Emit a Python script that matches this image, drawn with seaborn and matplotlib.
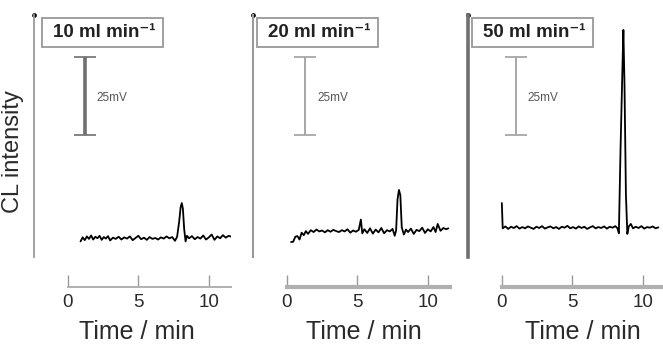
import matplotlib
matplotlib.use("Agg")
import matplotlib.pyplot as plt
from matplotlib.patches import Rectangle
import seaborn as sns

# ---------------- data ----------------
flow_rates = ["10", "20", "50"]
tick_values = [0, 5, 10]
scale_mv = 25

t1 = [0.90, 1.05, 1.20, 1.35, 1.50, 1.65, 1.80, 1.95, 2.10, 2.25, 2.40, 2.55, 2.70, 2.85, 3.00,
      3.20, 3.40, 3.60, 3.80, 4.00, 4.20, 4.40, 4.60, 4.80, 5.00, 5.20, 5.40, 5.60, 5.80, 6.00,
      6.20, 6.40, 6.60, 6.80, 7.00, 7.20, 7.40, 7.60, 7.75, 7.90, 8.00, 8.08, 8.16, 8.25, 8.35,
      8.45, 8.60, 8.80, 9.00, 9.20, 9.40, 9.60, 9.80, 10.00, 10.20, 10.40, 10.60, 10.80, 11.00,
      11.20, 11.40, 11.60]
y1 = [5.0, 6.3, 5.4, 6.6, 5.8, 6.9, 5.6, 6.5, 6.0, 6.8, 5.5, 6.4, 5.9, 6.7, 5.3,
      6.2, 5.8, 6.5, 5.6, 6.3, 5.9, 6.6, 5.4, 6.1, 6.8, 5.7, 6.2, 5.5, 6.4, 5.8,
      6.1, 5.6, 6.3, 5.9, 6.6, 6.0, 6.4, 5.2, 6.5, 11.5, 16.0, 17.3, 15.5, 9.0, 5.0,
      6.8, 6.0, 6.7, 5.7, 6.4, 5.9, 6.9, 5.6, 6.3, 7.2, 5.5, 6.6, 6.0, 7.0, 6.2, 6.8, 6.5]

t2 = [0.30, 0.45, 0.60, 0.75, 0.90, 1.05, 1.20, 1.35, 1.50, 1.70, 1.90, 2.10, 2.30, 2.50, 2.70,
      2.90, 3.10, 3.30, 3.50, 3.70, 3.90, 4.10, 4.30, 4.50, 4.70, 4.90, 5.10, 5.25, 5.35, 5.50,
      5.70, 5.90, 6.10, 6.30, 6.50, 6.70, 6.90, 7.10, 7.30, 7.50, 7.65, 7.75, 7.85, 7.95, 8.05,
      8.15, 8.30, 8.45, 8.60, 8.80, 9.00, 9.20, 9.40, 9.60, 9.80, 10.00, 10.20, 10.40, 10.55,
      10.70, 10.90, 11.10, 11.30, 11.45]
y2 = [4.8, 4.9, 6.5, 6.7, 5.6, 7.8, 7.0, 8.3, 7.4, 8.6, 8.0, 8.8, 8.2, 8.5, 7.9,
      8.6, 8.1, 8.7, 8.3, 8.0, 8.6, 8.2, 8.9, 7.8, 8.5, 8.1, 8.7, 12.0, 7.6, 8.9,
      7.7, 9.2, 7.5, 8.8, 7.9, 9.3, 7.6, 8.6, 8.2, 9.0, 6.8, 8.5, 18.5, 21.5, 19.8,
      9.5, 7.2, 8.8, 8.0, 9.1, 7.4, 8.7, 8.3, 9.4, 7.7, 8.9, 8.2, 9.6, 8.0, 10.6,
      8.4, 9.3, 8.9, 9.2]

t3 = [0.00, 0.06, 0.25, 0.45, 0.65, 0.85, 1.05, 1.25, 1.45, 1.65, 1.85, 2.05, 2.25, 2.45, 2.65,
      2.85, 3.05, 3.25, 3.45, 3.65, 3.85, 4.05, 4.25, 4.45, 4.65, 4.85, 5.05, 5.25, 5.45, 5.65,
      5.85, 6.05, 6.25, 6.45, 6.65, 6.85, 7.05, 7.25, 7.45, 7.65, 7.85, 8.05, 8.20, 8.30, 8.42,
      8.55, 8.62, 8.70, 8.80, 8.90, 9.00, 9.15, 9.30, 9.50, 9.70, 9.90, 10.10, 10.30, 10.50,
      10.70, 10.90, 11.10]
y3 = [17.3, 9.2, 9.8, 9.0, 9.7, 9.3, 9.9, 9.1, 9.6, 9.2, 9.8, 9.4, 9.0, 9.7, 9.3,
      9.9, 9.1, 9.5, 9.8, 9.2, 9.6, 9.0, 9.7, 9.4, 10.0, 9.2, 9.6, 9.1, 9.8, 9.3,
      9.7, 9.0, 9.5, 9.9, 9.2, 9.6, 9.3, 9.8, 9.1, 9.7, 9.4, 9.9, 9.2, 7.6, 35.0,
      60.0, 72.8, 55.0, 20.0, 7.4, 9.8, 10.6, 9.2, 9.7, 9.3, 9.9, 9.1, 9.6, 9.4, 9.8,
      9.2, 9.5]

times = [t1, t2, t3]
signals = [y1, y2, y3]

# ---------------- style ----------------
sns.set_theme(style="white")
plt.rcParams["font.family"] = ["Liberation Sans", "DejaVu Sans"]

W, H = 663, 345
fig = plt.figure(figsize=(W / 100, H / 100), dpi=100)

PX_PER_MIN = 14.1
XLIM = (-2.4, 11.6)
YLIM = (0, 77.6)
ax_lefts = [34, 253, 468]
ax_top, ax_bottom = 15, 257

left_spine_style = [("#9a9a9a", 1.3), ("#9a9a9a", 1.5), ("#707070", 2.6)]
bottom_spine_style = [("#b0b0b0", 1.4), ("#b0b0b0", 3.0), ("#b0b0b0", 3.0)]
bar_style = [("#707070", 2.6), ("#a0a0a0", 1.3), ("#a0a0a0", 1.3)]
bar_x = [1.2, 1.3, 1.0]
xlabel_x = [0.52, 0.56, 0.58]
box_left = [42, 257, 472]

for i in range(3):
    axw = (XLIM[1] - XLIM[0]) * PX_PER_MIN
    ax = fig.add_axes([ax_lefts[i] / W, (H - ax_bottom) / H, axw / W, (ax_bottom - ax_top) / H])
    ax.set_facecolor("none")
    sns.lineplot(x=times[i], y=signals[i], ax=ax, color="black", lw=1.3,
                 estimator=None, sort=False)
    ax.set_xlim(*XLIM)
    ax.set_ylim(*YLIM)

    for s in ("top", "right"):
        ax.spines[s].set_visible(False)
    c, lw = left_spine_style[i]
    ax.spines["left"].set_color(c)
    ax.spines["left"].set_linewidth(lw)
    c, lw = bottom_spine_style[i]
    ax.spines["bottom"].set_color(c)
    ax.spines["bottom"].set_linewidth(lw)
    ax.spines["bottom"].set_position(("outward", 30 * 0.72))
    ax.spines["bottom"].set_bounds(0, XLIM[1])

    ax.set_xticks(tick_values)
    ax.set_xticklabels([str(v) for v in tick_values])
    ax.set_yticks([])
    ax.tick_params(axis="x", bottom=True, direction="in", length=8.6, width=1.0,
                   color="#999999", pad=5, labelsize=13.5, labelcolor="#2a2a2a")
    ax.set_xlabel("Time / min", fontsize=18, color="#2a2a2a")
    ax.xaxis.set_label_coords(xlabel_x[i], (ax_bottom - 332) / (ax_bottom - ax_top))
    ax.xaxis.label.set_va("center")
    ax.set_ylabel("")

    # small dot on the top of the y axis
    ax.plot([0], [1], transform=ax.transAxes, marker="o", ms=3.4, mfc="black", mec="black",
            mew=0, color="black", clip_on=False)

    # 25 mV scale bar
    c, lw = bar_style[i]
    center = YLIM[0] + 51.6
    ax.errorbar([bar_x[i]], [center], yerr=[scale_mv / 2], fmt="none", ecolor=c,
                elinewidth=lw, capsize=7.9, capthick=1.2)
    ax.text(bar_x[i] + 0.85, center - 0.5, f"{scale_mv}mV", fontsize=8.5, color="#555555",
            ha="left", va="center")

    # flow rate box
    bx, by, bw, bh = box_left[i], 18, 121, 28.5
    fig.add_artist(Rectangle((bx / W, (H - by - bh) / H), bw / W, bh / H,
                             transform=fig.transFigure, facecolor="white",
                             edgecolor="#999999", lw=1.3))
    fig.text((bx + 11) / W, (H - by - bh / 2) / H, f"{flow_rates[i]} ml min\u207b\u00b9",
             fontsize=13.5, fontweight="bold", color="#222222", ha="left", va="center")

fig.text(13 / W, (H - 152) / H, "CL intensity", rotation=90, ha="center", va="center",
         fontsize=17, color="#2a2a2a")

fig.savefig("out.png", dpi=100)
